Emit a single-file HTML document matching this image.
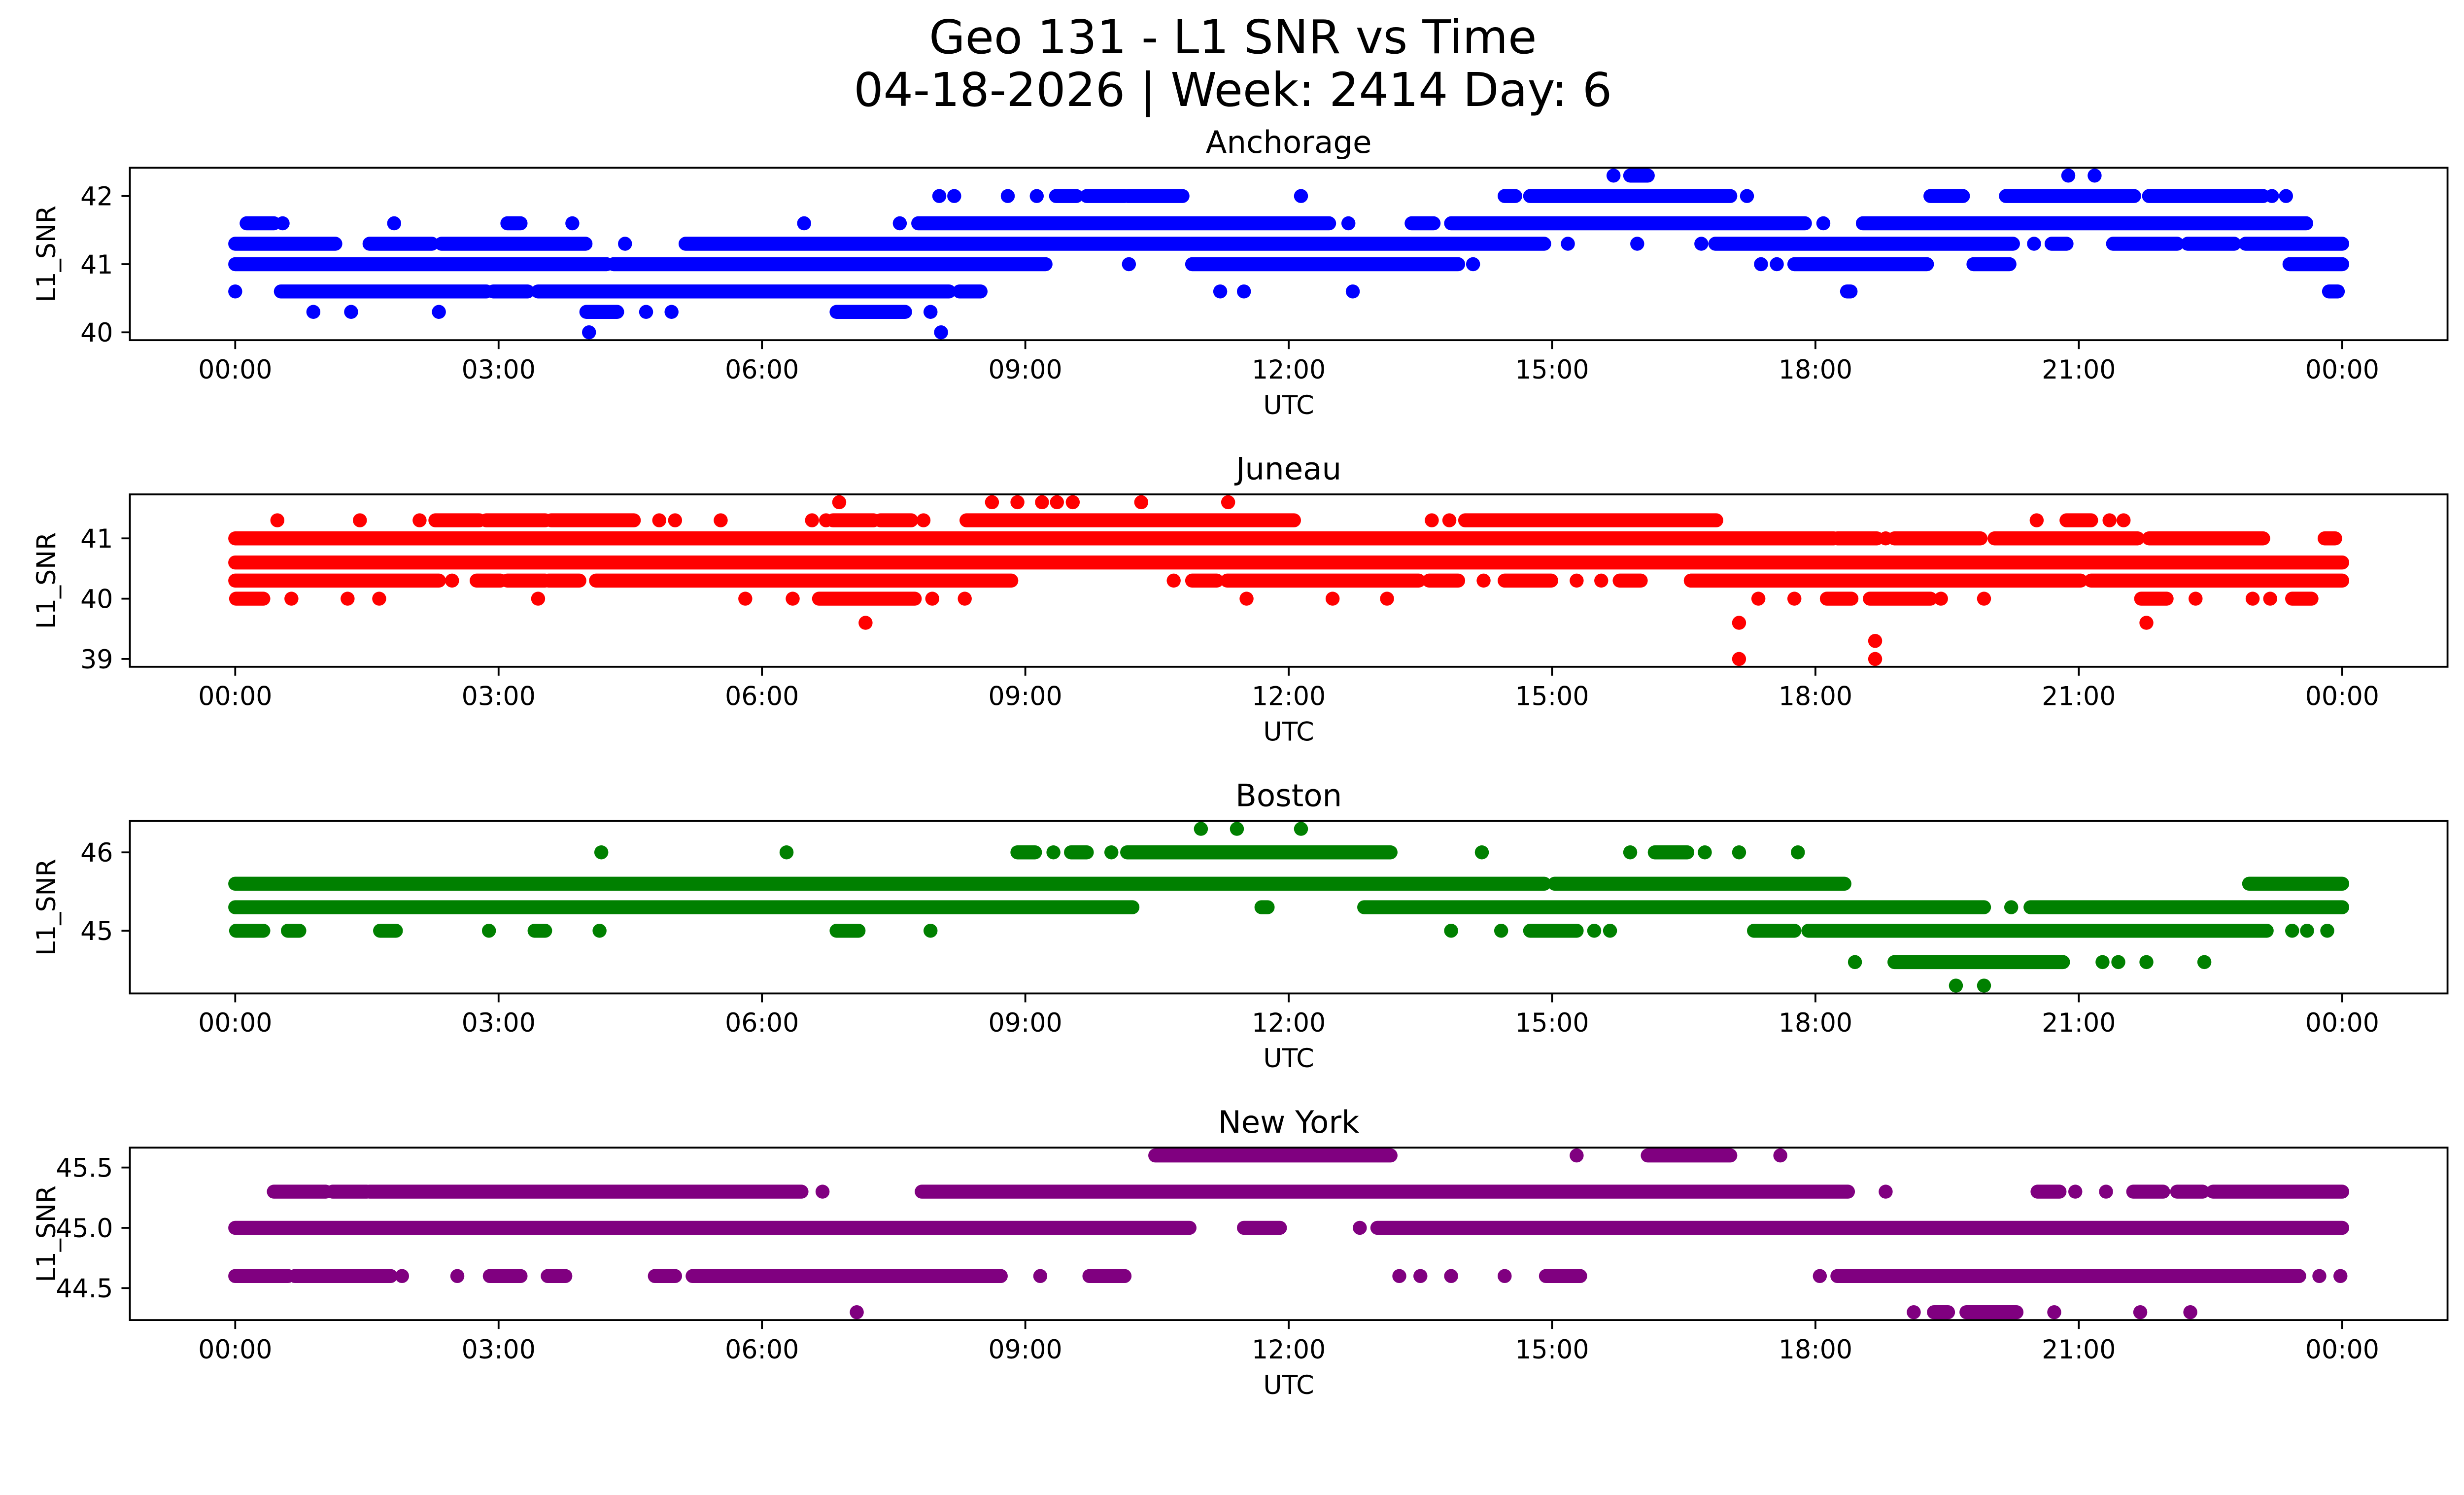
<!DOCTYPE html>
<html><head><meta charset="utf-8"><title>Geo 131 - L1 SNR vs Time</title>
<style>
html,body{margin:0;padding:0;background:#fff;overflow:hidden;}
svg{display:block;font-family:"DejaVu Sans","Liberation Sans",sans-serif;}
</style></head>
<body>
<svg id="svgroot" width="5278" height="3033" viewBox="0 0 5278 3033" xmlns="http://www.w3.org/2000/svg">
<rect x="0" y="0" width="5278" height="3033" fill="#fff"/>
<g id="fig" transform="scale(0.948)">
<text x="2639" y="114" font-size="100" text-anchor="middle">Geo 131 - L1 SNR vs Time</text>
<text x="2639" y="227" font-size="100" text-anchor="middle">04-18-2026 | Week: 2414 Day: 6</text>
</g>
</svg>
<script>
// ---- data: runs of consecutive observations [L1_SNR, start hour UTC, end hour UTC] ----
const stations = ["Anchorage", "Juneau", "Boston", "New York"];
const colors = ["#0000ff", "#ff0000", "#008000", "#800080"];
const xTickLabels = ["00:00","03:00","06:00","09:00","12:00","15:00","18:00","21:00","00:00"];
const xTickHours = [0,3,6,9,12,15,18,21,24];
const yTicksAnchorage = [40, 41, 42];
const yTicksJuneau = [39, 40, 41];
const yTicksBoston = [45, 46];
const yTicksNewYork = [44.5, 45.0, 45.5];
const yTickLabelsNewYork = ["44.5", "45.0", "45.5"];

const anchorageRuns = [
[42.3,15.7,15.7],[42.3,15.89,16.09],[42.3,20.88,20.88],[42.3,21.18,21.18],
[42,8.02,8.02],[42,8.19,8.19],[42,8.8,8.8],[42,9.13,9.13],[42,9.35,9.58],[42,9.7,10.13],[42,10.17,10.79],[42,12.14,12.14],[42,14.46,14.58],[42,14.75,17.03],[42,17.22,17.22],[42,19.31,19.68],[42,20.17,21.63],[42,21.8,23.1],[42,23.2,23.2],[42,23.36,23.36],
[41.6,0.13,0.44],[41.6,0.54,0.54],[41.6,1.81,1.81],[41.6,3.1,3.25],[41.6,3.84,3.84],[41.6,6.48,6.48],[41.6,7.57,7.57],[41.6,7.78,12.46],[41.6,12.68,12.68],[41.6,13.4,13.65],[41.6,13.85,17.88],[41.6,18.09,18.09],[41.6,18.54,23.59],
[41.3,0,1.14],[41.3,1.53,2.24],[41.3,2.35,3.99],[41.3,4.44,4.44],[41.3,5.13,14.91],[41.3,15.18,15.18],[41.3,15.97,15.97],[41.3,16.7,16.7],[41.3,16.86,20.25],[41.3,20.49,20.49],[41.3,20.69,20.86],[41.3,21.39,22.12],[41.3,22.24,22.77],[41.3,22.9,24],
[41,0,4.23],[41,4.31,9.23],[41,10.18,10.18],[41,10.9,13.93],[41,14.1,14.1],[41,17.38,17.38],[41,17.56,17.56],[41,17.76,19.27],[41,19.8,20.21],[41,23.4,24],
[40.6,0,0],[40.6,0.52,2.86],[40.6,2.94,3.33],[40.6,3.45,8.13],[40.6,8.25,8.49],[40.6,11.22,11.22],[40.6,11.49,11.49],[40.6,12.73,12.73],[40.6,18.36,18.4],[40.6,23.85,23.95],
[40.3,0.89,0.89],[40.3,1.32,1.32],[40.3,2.32,2.32],[40.3,4.0,4.35],[40.3,4.68,4.68],[40.3,4.97,4.97],[40.3,6.85,7.63],[40.3,7.92,7.92],
[40,4.03,4.03],[40,8.04,8.04]
];

const juneauRuns = [
[41.6,6.88,6.88],[41.6,8.62,8.62],[41.6,8.91,8.91],[41.6,9.19,9.19],[41.6,9.36,9.36],[41.6,9.54,9.54],[41.6,10.32,10.32],[41.6,11.31,11.31],
[41.3,0.48,0.48],[41.3,1.42,1.42],[41.3,2.1,2.1],[41.3,2.28,2.78],[41.3,2.86,3.53],[41.3,3.6,4.54],[41.3,4.83,4.83],[41.3,5.01,5.01],[41.3,5.53,5.53],[41.3,6.57,6.57],[41.3,6.73,6.73],[41.3,6.81,7.27],[41.3,7.35,7.7],[41.3,7.84,7.84],[41.3,8.33,12.06],[41.3,13.63,13.63],[41.3,13.83,13.83],[41.3,14.01,16.87],[41.3,20.52,20.52],[41.3,20.86,21.14],[41.3,21.35,21.35],[41.3,21.51,21.51],
[41,0,18.21],[41,18.25,18.7],[41,18.8,18.8],[41,18.9,19.88],[41,20.04,21.67],[41,21.8,23.1],[41,23.8,23.92],
[40.6,0,24],
[40.3,0,2.32],[40.3,2.47,2.47],[40.3,2.75,3.02],[40.3,3.1,3.53],[40.3,3.57,3.92],[40.3,4.11,8.84],[40.3,10.69,10.69],[40.3,10.9,11.18],[40.3,11.3,13.48],[40.3,13.6,13.93],[40.3,14.22,14.22],[40.3,14.46,14.99],[40.3,15.28,15.28],[40.3,15.56,15.56],[40.3,15.77,16.01],[40.3,16.58,21.02],[40.3,21.14,24],
[40,0.01,0.32],[40,0.64,0.64],[40,1.28,1.28],[40,1.64,1.64],[40,3.45,3.45],[40,5.81,5.81],[40,6.35,6.35],[40,6.65,7.74],[40,7.94,7.94],[40,8.31,8.31],[40,11.52,11.52],[40,12.5,12.5],[40,13.12,13.12],[40,17.35,17.35],[40,17.76,17.76],[40,18.13,18.41],[40,18.62,19.31],[40,19.43,19.43],[40,19.92,19.92],[40,21.71,22],[40,22.33,22.33],[40,22.98,22.98],[40,23.18,23.18],[40,23.43,23.65],
[39.6,7.18,7.18],[39.6,17.13,17.13],[39.6,21.77,21.77],
[39.3,18.68,18.68],
[39,17.13,17.13],[39,18.68,18.68]
];

const bostonRuns = [
[46.3,11.0,11.0],[46.3,11.41,11.41],[46.3,12.14,12.14],
[46,4.17,4.17],[46,6.28,6.28],[46,8.91,9.11],[46,9.32,9.32],[46,9.52,9.7],[46,9.98,9.98],[46,10.16,13.16],[46,14.2,14.2],[46,15.89,15.89],[46,16.17,16.54],[46,16.74,16.74],[46,17.13,17.13],[46,17.8,17.8],
[45.6,0,14.91],[45.6,15.03,18.33],[45.6,22.94,24],
[45.3,0,10.22],[45.3,11.69,11.76],[45.3,12.86,19.92],[45.3,20.23,20.23],[45.3,20.45,24],
[45,0.01,0.32],[45,0.6,0.73],[45,1.65,1.83],[45,2.89,2.89],[45,3.41,3.53],[45,4.15,4.15],[45,6.85,7.1],[45,7.92,7.92],[45,13.85,13.85],[45,14.42,14.42],[45,14.75,15.28],[45,15.48,15.48],[45,15.66,15.66],[45,17.3,17.76],[45,17.92,23.14],[45,23.43,23.43],[45,23.6,23.6],[45,23.83,23.83],
[44.6,18.45,18.45],[44.6,18.9,20.82],[44.6,21.27,21.27],[44.6,21.45,21.45],[44.6,21.77,21.77],[44.6,22.43,22.43],
[44.3,19.6,19.6],[44.3,19.92,19.92]
];

const newYorkRuns = [
[45.6,10.48,13.16],[45.6,15.28,15.28],[45.6,16.09,17.03],[45.6,17.6,17.6],
[45.3,0.44,1.03],[45.3,1.11,1.5],[45.3,1.53,6.45],[45.3,6.69,6.69],[45.3,7.82,18.37],[45.3,18.8,18.8],[45.3,20.53,20.78],[45.3,20.96,20.96],[45.3,21.31,21.31],[45.3,21.62,21.96],[45.3,22.12,22.41],[45.3,22.53,24],
[45,0,10.87],[45,11.49,11.9],[45,12.81,12.81],[45,13.01,24],
[44.6,0,0.6],[44.6,0.68,1.77],[44.6,1.9,1.9],[44.6,2.53,2.53],[44.6,2.9,3.25],[44.6,3.56,3.76],[44.6,4.78,5.01],[44.6,5.21,8.72],[44.6,9.17,9.17],[44.6,9.73,10.13],[44.6,13.26,13.26],[44.6,13.5,13.5],[44.6,13.85,13.85],[44.6,14.46,14.46],[44.6,14.93,15.32],[44.6,18.05,18.05],[44.6,18.25,23.51],[44.6,23.74,23.74],[44.6,23.98,23.98],
[44.3,7.08,7.08],[44.3,19.12,19.12],[44.3,19.35,19.51],[44.3,19.72,20.29],[44.3,20.72,20.72],[44.3,21.7,21.7],[44.3,22.27,22.27]
];

// ---- layout ----
const NS = "http://www.w3.org/2000/svg";
const fig = document.getElementById("fig");
const axLeft = 278, axRight = 5239, axH = 369;
const axTops = [359, 1058, 1757, 2456];
const allRuns = [anchorageRuns, juneauRuns, bostonRuns, newYorkRuns];
const allTicks = [yTicksAnchorage, yTicksJuneau, yTicksBoston, yTicksNewYork];
const tickFmt = [null, null, null, yTickLabelsNewYork];
const R = 15;

function mk(tag, attrs, parent) {
  const e = document.createElementNS(NS, tag);
  for (const k in attrs) e.setAttribute(k, attrs[k]);
  (parent || fig).appendChild(e);
  return e;
}
const xMin = -1.2, xMax = 25.2;
function xScale(h) { return axLeft + (h - xMin) / (xMax - xMin) * (axRight - axLeft); }

stations.forEach((name, i) => {
  const runs = allRuns[i];
  const top = axTops[i], bottom = top + axH;
  let lo = Infinity, hi = -Infinity;
  runs.forEach(r => { lo = Math.min(lo, r[0]); hi = Math.max(hi, r[0]); });
  const pad = (hi - lo) * 0.05;
  const yMin = lo - pad, yMax = hi + pad;
  const yScale = v => bottom - (v - yMin) / (yMax - yMin) * axH;

  const g = mk("g", {});
  
  

  const clipId = "clip" + i;
  const cp = mk("clipPath", { id: clipId }, g);
  mk("rect", { x: axLeft, y: top, width: axRight - axLeft, height: axH }, cp);

  const marks = mk("g", { "clip-path": "url(#" + clipId + ")" }, g);
  
  
  runs.forEach(r => {
    const x1 = xScale(r[1]), x2 = xScale(r[2]), y = yScale(r[0]);
    const el = mk("rect", { x: x1 - R, y: y - R, width: (x2 - x1) + 2 * R, height: 2 * R, rx: R, ry: R, fill: colors[i] }, marks);
    
    
  });

  const frame = mk("rect", { x: axLeft, y: top, width: axRight - axLeft, height: axH, fill: "none", stroke: "#000", "stroke-width": 4 }, g);
  
  

  allTicks[i].forEach((t, k) => {
    const y = yScale(t);
    mk("line", { x1: axLeft - 18, x2: axLeft, y1: y, y2: y, stroke: "#000", "stroke-width": 4 }, g);
    const lab = mk("text", { x: axLeft - 36, y: y + 20, "font-size": 55, "text-anchor": "end" }, g);
    lab.textContent = tickFmt[i] ? tickFmt[i][k] : String(t);
    
    
  });
  xTickHours.forEach((h, k) => {
    const x = xScale(h);
    mk("line", { x1: x, x2: x, y1: bottom, y2: bottom + 19, stroke: "#000", "stroke-width": 4 }, g);
    const lab = mk("text", { x: x, y: bottom + 82, "font-size": 55, "text-anchor": "middle" }, g);
    lab.textContent = xTickLabels[k];
    
    
  });
  const xl = mk("text", { x: (axLeft + axRight) / 2, y: bottom + 158, "font-size": 55, "text-anchor": "middle" }, g);
  xl.textContent = "UTC";
  
  

  const yl = mk("text", { x: 0, y: 0, "font-size": 55, "text-anchor": "middle", transform: "translate(118," + (top + axH / 2) + ") rotate(-90)" }, g);
  yl.textContent = "L1_SNR";
  
  

  const tt = mk("text", { x: (axLeft + axRight) / 2, y: top - 32, "font-size": 66, "text-anchor": "middle" }, g);
  tt.textContent = name;
  
  
});
</script>
</body></html>
